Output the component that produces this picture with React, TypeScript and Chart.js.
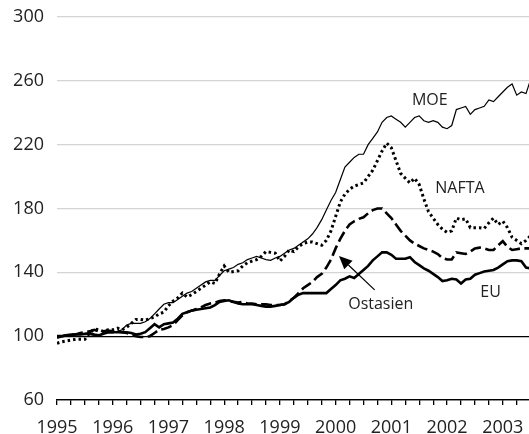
import React, { useEffect, useRef } from "react";
import { Chart, registerables } from "chart.js";

Chart.register(...registerables);

const START_YEAR = 1995;
const X_MIN = 1995;
const X_MAX = 2003.47;
const X_TICK_STEP = 0.25;
const Y_MIN = 60;
const Y_MAX = 300;
const Y_STEP = 40;

// Monthly index values, Jan 1995 .. Jul 2003
const moe = [
  99, 100, 100, 100.5, 101, 101, 101, 101, 100.5, 101, 101.5, 102,
  102, 103, 104, 107, 108, 108, 108, 109, 111, 114, 117, 120,
  121, 121, 123, 125, 127, 128, 130, 132, 134, 135, 135, 138,
  141, 142, 143, 145, 146, 148, 149, 150, 149, 148, 147.5, 149,
  150, 152, 154, 155, 157, 159, 161, 164, 168, 173, 179, 185,
  190, 198, 206, 209, 212, 214, 214, 220, 224, 228, 234, 237,
  238, 236, 234, 231, 234, 237, 238, 235, 234, 235, 234, 231,
  230, 232, 242, 243, 244, 239, 242, 243, 244, 248, 247, 250,
  253, 256, 258, 251, 253, 252, 261,
];

const nafta = [
  95.5, 96.5, 97, 97.5, 98, 98, 98, 102, 104.5, 104, 103, 104,
  104, 105, 104, 105.5, 108, 110.5, 110.5, 110, 111, 112, 114, 115,
  119, 122, 124, 127, 124.5, 126, 128, 130, 132, 134, 133, 139,
  144, 140, 140.5, 141, 144, 146, 147, 148, 150, 153, 152.5, 152,
  147, 150, 154, 153, 156, 158, 159, 159, 158, 157, 160, 166,
  175, 184, 189, 192, 194, 195, 196, 200, 204, 210, 216, 221,
  218, 210, 202, 199, 196, 199, 195, 186, 178, 174, 170, 167,
  165, 166, 174, 173, 173.5, 168, 168, 168, 167.5, 171, 174, 170,
  172, 168, 162, 160, 158, 160, 163,
];

const ostasien = [
  99, 100, 100.5, 101, 101, 102, 102.5, 103, 104, 103, 103, 103.5,
  103, 103, 102.5, 102, 101, 100, 99.5, 99.5, 100, 102, 104, 104.5,
  105.5, 107, 110, 113, 115, 116, 117, 118, 119.5, 120.5, 121, 122,
  122.5, 122, 121.5, 121, 121.5, 120.5, 120.5, 120, 120, 120, 119.5, 119.5,
  119.5, 120, 122, 124, 127, 130, 132, 134, 137, 139, 143, 148,
  155, 161, 166, 170, 172, 173.5, 174.5, 177, 179, 180, 180, 177,
  174, 170, 166, 163, 160, 158, 156.5, 155, 154, 153, 151.5, 149,
  148, 148, 152.5, 152, 151.5, 153, 155, 155.5, 155, 154, 154, 157,
  159.5, 156, 154, 154.5, 155, 155, 155,
];

const eu = [
  100, 100, 100.5, 101, 101, 101, 101.5, 102, 101, 100.5, 101.5, 102.5,
  102.5, 102.5, 102.5, 102.5, 102, 101, 101.5, 102.5, 105, 107.5, 105.5, 107.5,
  108, 108.5, 111, 114, 115, 116, 116.5, 117, 117.5, 118, 119.5, 121.5,
  122, 122.5, 121.5, 120.5, 120, 120, 120, 119.5, 119, 118.5, 118.5, 119,
  119.5, 120, 121.5, 124, 126, 127, 127, 127, 127, 127, 127, 129.5,
  132, 135, 136, 137.5, 136.5, 139, 141.5, 144, 147.5, 150, 152.5, 152.5,
  151, 148.5, 148.5, 148.5, 149.5, 146.5, 144.5, 142.5, 141, 139, 137, 134.5,
  135, 136, 135.5, 133, 135.5, 136, 138.5, 139.5, 140.5, 141, 141.5, 143,
  145, 147, 147.5, 147.5, 147, 143, 142.5,
];

// Annotation labels in data coordinates [year, value]
const seriesLabels = [
  { text: "MOE", x: 2001.69, y: 248 },
  { text: "NAFTA", x: 2002.23, y: 192.8 },
  { text: "Ostasien", x: 2000.81, y: 120 },
  { text: "EU", x: 2002.78, y: 127.5 },
];
const arrowFrom = { x: 2000.7, y: 129 };
const arrowTo = { x: 2000.06, y: 150.2 };

const FONT = "'Open Sans', 'Noto Sans', sans-serif";

const toPoints = (arr: number[]) =>
  arr.map((v, i) => ({ x: START_YEAR + i / 12, y: v }));

const annotationPlugin = {
  id: "labelsAndArrow",
  afterDraw(chart: any) {
    const { ctx, scales } = chart;
    const xs = scales.x;
    const ys = scales.y;
    ctx.save();
    ctx.fillStyle = "#222";
    ctx.font = `16px ${FONT}`;
    ctx.textAlign = "center";
    ctx.textBaseline = "middle";
    for (const l of seriesLabels) {
      ctx.fillText(l.text, xs.getPixelForValue(l.x), ys.getPixelForValue(l.y));
    }
    const x1 = xs.getPixelForValue(arrowFrom.x);
    const y1 = ys.getPixelForValue(arrowFrom.y);
    const x2 = xs.getPixelForValue(arrowTo.x);
    const y2 = ys.getPixelForValue(arrowTo.y);
    const ang = Math.atan2(y2 - y1, x2 - x1);
    const headLen = 13;
    const headW = 6;
    const bx = x2 - headLen * Math.cos(ang);
    const by = y2 - headLen * Math.sin(ang);
    ctx.strokeStyle = "#000";
    ctx.lineWidth = 1.2;
    ctx.beginPath();
    ctx.moveTo(x1, y1);
    ctx.lineTo(bx, by);
    ctx.stroke();
    ctx.fillStyle = "#000";
    ctx.beginPath();
    ctx.moveTo(x2, y2);
    ctx.lineTo(bx + headW * Math.sin(ang), by - headW * Math.cos(ang));
    ctx.lineTo(bx - headW * Math.sin(ang), by + headW * Math.cos(ang));
    ctx.closePath();
    ctx.fill();
    ctx.restore();
  },
};

export default function App() {
  const ref = useRef<HTMLCanvasElement | null>(null);
  useEffect(() => {
    if (!ref.current) return;
    const chart = new Chart(ref.current, {
      type: "line",
      data: {
        datasets: [
          {
            label: "MOE",
            data: toPoints(moe),
            borderColor: "#000",
            borderWidth: 1.2,
            pointRadius: 0,
            tension: 0,
          },
          {
            label: "NAFTA",
            data: toPoints(nafta),
            borderColor: "#000",
            borderWidth: 3,
            borderDash: [2.5, 3],
            pointRadius: 0,
            tension: 0,
          },
          {
            label: "Ostasien",
            data: toPoints(ostasien),
            borderColor: "#000",
            borderWidth: 2.6,
            borderDash: [11, 4.5],
            pointRadius: 0,
            tension: 0,
          },
          {
            label: "EU",
            data: toPoints(eu),
            borderColor: "#000",
            borderWidth: 2.6,
            pointRadius: 0,
            tension: 0,
          },
        ],
      },
      options: {
        responsive: false,
        animation: false,
        layout: { padding: { top: 17, right: 0, bottom: 0, left: 0 } },
        plugins: {
          legend: { display: false },
          tooltip: { enabled: false },
        },
        scales: {
          x: {
            type: "linear",
            min: X_MIN,
            max: X_MAX,
            border: { display: true, color: "#000", width: 1.3 },
            grid: {
              display: true,
              drawOnChartArea: false,
              drawTicks: true,
              tickLength: 5,
              color: "#000",
              tickColor: "#000",
              lineWidth: 1.3,
              tickWidth: 1.3,
            },
            ticks: {
              stepSize: X_TICK_STEP,
              autoSkip: false,
              includeBounds: false,
              maxRotation: 0,
              padding: 12,
              color: "#222",
              font: { family: FONT, size: 18 },
              callback: (v: any) =>
                Math.abs(v - Math.round(v)) < 1e-6 ? String(Math.round(v)) : "",
            },
            afterFit: (s: any) => {
              s.height = 34;
            },
          },
          y: {
            min: Y_MIN,
            max: Y_MAX,
            border: { display: false },
            grid: {
              drawTicks: false,
              color: (c: any) =>
                c.tick && (c.tick.value === 100 || c.tick.value === 60) ? "#000" : "#d4d4d4",
              lineWidth: 1.3,
            },
            ticks: {
              stepSize: Y_STEP,
              padding: 13,
              color: "#222",
              font: { family: FONT, size: 18 },
            },
            afterFit: (s: any) => {
              s.width = 57;
              s.paddingTop = 0;
              s.paddingBottom = 0;
            },
          },
        },
      },
      plugins: [annotationPlugin],
    });
    return () => chart.destroy();
  }, []);
  return (
    <div style={{ position: "fixed", left: 0, top: 0, width: 529, height: 434, background: "#fff" }}>
      <canvas ref={ref} width={529} height={434} style={{ display: "block" }} />
    </div>
  );
}
